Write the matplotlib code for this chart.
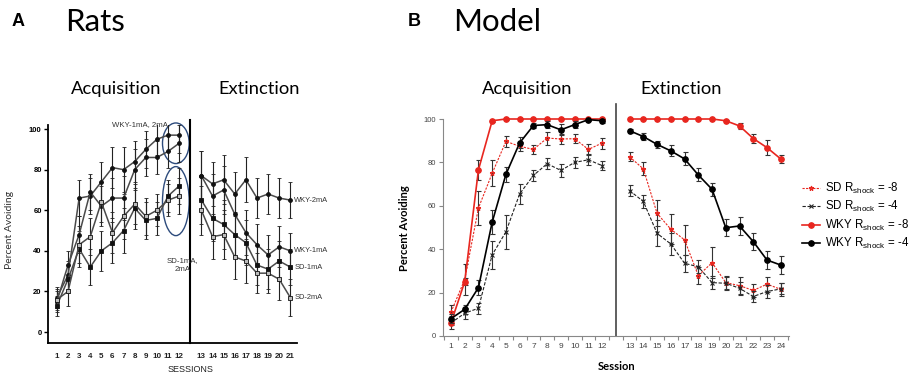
import numpy as np
import matplotlib
matplotlib.use("Agg")
import matplotlib.pyplot as plt
from matplotlib.patches import Ellipse

# ---- Panel A (rats) ----
sessions_acq_a = list(range(1, 13))
sessions_ext_a = list(range(13, 22))

wky2_acq_a = [17, 28, 66, 67, 74, 81, 80, 84, 90, 95, 97, 97]
wky2_ext_a = [77, 73, 75, 68, 75, 66, 68, 66, 65]
wky1_acq_a = [15, 33, 48, 69, 62, 66, 66, 80, 86, 86, 89, 93]
wky1_ext_a = [77, 67, 70, 58, 49, 43, 38, 42, 40]
sd1_acq_a = [13, 26, 41, 32, 40, 44, 50, 61, 55, 56, 67, 72]
sd1_ext_a = [65, 56, 53, 48, 44, 33, 31, 35, 32]
sd2_acq_a = [16, 20, 43, 47, 64, 49, 57, 63, 57, 60, 65, 67]
sd2_ext_a = [60, 47, 48, 37, 35, 29, 29, 26, 17]

err_acq_a = [5, 7, 9, 9, 10, 10, 11, 10, 9, 8, 8, 9]
err_ext_a = [12, 11, 12, 11, 11, 10, 10, 10, 9]

ext_labels_a = ["WKY-2mA", "WKY-1mA", "SD-1mA", "SD-2mA"]

# ---- Panel B (model) ----
sessions_acq_b = list(range(1, 13))
sessions_ext_b = list(range(13, 25))

sd8_acq = [11, 26, 59, 75, 89.7, 87.4, 86, 91.2, 90.8, 90.9, 86, 88.9]
sd8_ext = [82.6, 77, 56.5, 49.2, 44.3, 27.8, 33.8, 24.6, 23.2, 21, 23.9, 21.5]
sd4_acq = [6, 10.5, 12.8, 37.4, 48, 65.5, 74, 79.4, 76.3, 80, 81.2, 78.5]
sd4_ext = [67, 62, 47.3, 42.4, 33.5, 31.9, 24.6, 24.3, 22, 18.2, 20.5, 21.7]
wky8_acq = [6, 25, 76.6, 99.2, 100, 100, 100, 100, 100, 100, 100, 100]
wky8_ext = [100, 100, 100, 100, 100, 100, 100, 99.2, 96.8, 91, 86.8, 81.6]
wky4_acq = [8, 12.3, 22.3, 52.5, 74.5, 89, 97, 97.4, 95, 97.4, 99.7, 99.2]
wky4_ext = [94.6, 91.9, 88.3, 85.3, 81.6, 74.2, 67.6, 49.9, 50.7, 43.5, 35, 32.7]

sd8_err_acq = [3.5, 7, 8, 6, 2.5, 2, 2, 3, 2.5, 2, 2.5, 2.5]
sd8_err_ext = [2, 3, 6, 7, 7, 4, 7, 3, 4, 3, 3.5, 3]
sd4_err_acq = [3, 2.5, 2.5, 6.5, 7.7, 4.5, 2.5, 2.5, 3, 2.5, 2.5, 2]
sd4_err_ext = [2.5, 3, 6, 5, 4, 3, 3, 3, 3, 2.5, 3, 2.5]
wky8_err_acq = [1, 1.5, 4.5, 0.5, 0.3, 0, 0, 0, 0, 0, 0, 0]
wky8_err_ext = [0, 0, 0, 0, 0, 0, 0, 0.5, 1.2, 2, 3.5, 2]
wky4_err_acq = [2, 2, 3.5, 5.5, 3.5, 2.5, 1, 1.5, 2.5, 1.5, 0.5, 1]
wky4_err_ext = [1, 1.5, 1.5, 2.5, 3, 3, 3, 4, 4, 4, 4, 4]

legend_labels = [
    r"SD R$_{\mathregular{shock}}$ = -8",
    r"SD R$_{\mathregular{shock}}$ = -4",
    r"WKY R$_{\mathregular{shock}}$ = -8",
    r"WKY R$_{\mathregular{shock}}$ = -4",
]

TITLE_FONT = "Lato"
ARIAL = "Liberation Sans"
RED = "#e8261f"


def pos(sessions, gap):
    # sessions after the 12th sit one slot further right (divider slot)
    return [s if s <= 12 else s + gap for s in sessions]


fig = plt.figure(figsize=(9.11, 3.77), dpi=100)

# ================= Panel A =================
axA = fig.add_axes([48 / 911, 1 - 343 / 377, (297 - 48) / 911, (343 - 125) / 377])
axA.set_xlim(0.2, 22.6)
axA.set_ylim(-5.4, 102)

series_a = [
    (wky2_acq_a, wky2_ext_a, "o", "#111111", 2.8),
    (wky1_acq_a, wky1_ext_a, "o", "#111111", 2.8),
    (sd1_acq_a, sd1_ext_a, "s", "#111111", 3.2),
    (sd2_acq_a, sd2_ext_a, "s", "#bbbbbb", 3.2),
]
for acq, ext, mk, fc, ms in series_a:
    for xs, ys, es in [(pos(sessions_acq_a, 1), acq, err_acq_a),
                       (pos(sessions_ext_a, 1), ext, err_ext_a)]:
        axA.errorbar(xs, ys, yerr=es, color="#4a4a4a", lw=1.1,
                     ecolor="#222222", elinewidth=0.8, capsize=1.6, capthick=0.8,
                     marker=mk, ms=ms, mfc=fc, mec="#111111", mew=0.6)

for lbl, ext in zip(ext_labels_a, [wky2_ext_a, wky1_ext_a, sd1_ext_a, sd2_ext_a]):
    axA.text(22.35, ext[-1], lbl, fontsize=5.4, family=ARIAL, color="#333333",
             va="center", ha="left", clip_on=False)

axA.text(8.5, 102.3, "WKY-1mA, 2mA", fontsize=5.6, family=ARIAL, color="#333333",
         ha="center", va="center", clip_on=False)
axA.text(12.3, 33, "SD-1mA,\n2mA", fontsize=5.6, family=ARIAL, color="#333333",
         ha="center", va="center", linespacing=1.5)
axA.add_patch(Ellipse((11.7, 93), 2.4, 20, fill=False, ec="#2d4b7c", lw=1.0,
                      clip_on=False))
axA.add_patch(Ellipse((11.7, 64.5), 2.4, 34, fill=False, ec="#2d4b7c", lw=1.0,
                      clip_on=False))

axA.plot([13, 13], [-5.4, 104.5], color="black", lw=1.5, clip_on=False)

for side in ["top", "right"]:
    axA.spines[side].set_visible(False)
axA.spines["left"].set_linewidth(1.3)
axA.spines["bottom"].set_linewidth(1.3)
axA.set_yticks([0, 20, 40, 60, 80, 100])
axA.set_yticklabels(["0", "20", "40", "60", "80", "100"], fontsize=5.5,
                    family=ARIAL, fontweight="bold")
axA.tick_params(axis="y", length=3, width=1, pad=1.5)
axA.set_xticks(pos(sessions_acq_a + sessions_ext_a, 1))
axA.set_xticklabels([str(s) for s in sessions_acq_a + sessions_ext_a],
                    fontsize=5.8, family=ARIAL, fontweight="bold", color="#222222")
axA.tick_params(axis="x", length=0, pad=7)

fig.text(190 / 911, 1 - 369 / 377, "SESSIONS", fontsize=6.5, family=ARIAL,
         ha="center", va="center", color="#222222")
fig.text(10 / 911, 1 - 230 / 377, "Percent Avoiding", fontsize=7.5,
         family=TITLE_FONT, rotation=90, ha="center", va="center", color="#333333")

fig.text(18 / 911, 1 - 22 / 377, "A", fontsize=13, family=ARIAL, fontweight="bold",
         ha="center", va="center")
fig.text(65 / 911, 1 - 22 / 377, "Rats", fontsize=22.5, family=TITLE_FONT,
         ha="left", va="center")
fig.text(116 / 911, 1 - 89 / 377, "Acquisition", fontsize=13.2, family=TITLE_FONT,
         ha="center", va="center")
fig.text(259 / 911, 1 - 89 / 377, "Extinction", fontsize=13.2, family=TITLE_FONT,
         ha="center", va="center")

# ================= Panel B =================
axB = fig.add_axes([443 / 911, 1 - 336 / 377, (789 - 443) / 911, (336 - 119) / 377])
axB.set_xlim(0.42, 25.6)
axB.set_ylim(0, 100)

series_b = [
    (sd8_acq, sd8_ext, sd8_err_acq, sd8_err_ext, RED, (0, (2, 1.2)), "*", 3.5, "none", 0.8),
    (sd4_acq, sd4_ext, sd4_err_acq, sd4_err_ext, "#222222", (0, (3, 1.5)), "x", 3.0, "none", 0.8),
    (wky8_acq, wky8_ext, wky8_err_acq, wky8_err_ext, RED, "-", "o", 4.0, RED, 1.2),
    (wky4_acq, wky4_ext, wky4_err_acq, wky4_err_ext, "black", "-", "o", 4.0, "black", 1.2),
]
handles = []
for acq, ext, ea, ee, col, ls, mk, ms, mfc, lw in series_b:
    for xs, ys, es in [(pos(sessions_acq_b, 1), acq, ea),
                       (pos(sessions_ext_b, 1), ext, ee)]:
        axB.errorbar(xs, ys, yerr=es, fmt="none", ecolor="#333333",
                     elinewidth=0.8, capsize=1.8, capthick=0.8, clip_on=False)
        ln, = axB.plot(xs, ys, color=col, ls=ls, lw=lw, marker=mk, ms=ms,
                       mfc=mfc, mec=col, mew=0.8, clip_on=False)
    handles.append(ln)

axB.plot([13, 13], [0, 107], color="#444444", lw=1.2, clip_on=False)

for side in ["top", "right"]:
    axB.spines[side].set_visible(False)
axB.spines["left"].set_color("#888888")
axB.spines["bottom"].set_color("#888888")
axB.set_yticks([0, 20, 40, 60, 80, 100])
axB.set_yticklabels(["0", "20", "40", "60", "80", "100"], fontsize=5.5,
                    family=ARIAL, color="#444444")
axB.tick_params(axis="y", length=3, width=0.8, color="#888888", pad=2)
allb = sessions_acq_b + sessions_ext_b
axB.set_xticks(pos(allb, 1))
axB.set_xticklabels([str(s) for s in allb], fontsize=6, family=ARIAL, color="#444444")
axB.tick_params(axis="x", length=0, pad=5)
axB.set_xticks(np.arange(0.5, 26, 1.0), minor=True)
axB.tick_params(axis="x", which="minor", length=3, width=0.8, color="#888888")

fig.text(617 / 911, 1 - 367 / 377, "Session", fontsize=8, family=TITLE_FONT,
         fontweight="bold", ha="center", va="center")
fig.text(405 / 911, 1 - 228 / 377, "Percent Avoiding", fontsize=8,
         family=TITLE_FONT, fontweight="bold", rotation=90, ha="center", va="center")

fig.text(414 / 911, 1 - 22 / 377, "B", fontsize=13, family=ARIAL, fontweight="bold",
         ha="center", va="center")
fig.text(453 / 911, 1 - 22 / 377, "Model", fontsize=22.5, family=TITLE_FONT,
         ha="left", va="center")
fig.text(527 / 911, 1 - 89 / 377, "Acquisition", fontsize=13.2, family=TITLE_FONT,
         ha="center", va="center")
fig.text(681 / 911, 1 - 89 / 377, "Extinction", fontsize=13.2, family=TITLE_FONT,
         ha="center", va="center")

fig.legend(handles, legend_labels, loc="upper left",
           bbox_to_anchor=(797 / 911, 1 - 176 / 377), frameon=False,
           prop={"family": ARIAL, "size": 8.3}, handlelength=1.6,
           handletextpad=0.4, labelspacing=0.3, borderaxespad=0)

fig.savefig("out.png", dpi=100)
